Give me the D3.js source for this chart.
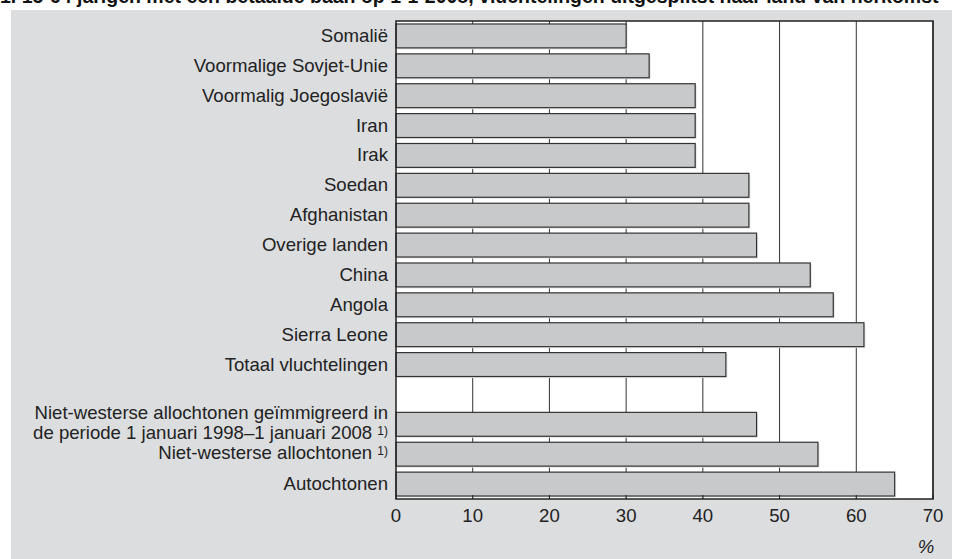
<!DOCTYPE html>
<html>
<head>
<meta charset="utf-8">
<script src="https://cdn.jsdelivr.net/npm/d3@7"></script>
<style>
  body { margin: 0; background: #fff; }
  svg { display: block; font-family: "Liberation Sans", Arial, sans-serif; }
</style>
</head>
<body>
<svg id="chart" width="955" height="559"></svg>
<script>
// data
let categories = ["Somalië", "Voormalige Sovjet-Unie", "Voormalig Joegoslavië", "Iran", "Irak",
    "Soedan", "Afghanistan", "Overige landen", "China", "Angola", "Sierra Leone",
    "Totaal vluchtelingen", "", "nw_immig", "nw", "Autochtonen"];
let values = [30, 33, 39, 39, 39, 46, 46, 47, 54, 57, 61, 43, null, 47, 55, 65];
let xTicks = [0, 10, 20, 30, 40, 50, 60, 70];

let svg = d3.select("#chart");
let plotL = 396, plotR = 933, plotT = 21, plotB = 499;
let fs = 18.6;

// gray panel
svg.append("rect")
    .attr("x", 11).attr("y", 10)
    .attr("width", 941).attr("height", 549)
    .attr("fill", "#dcdddf");

svg.append("text")
    .attr("x", 0).attr("y", 3)
    .attr("font-size", 19.5).attr("font-weight", "bold")
    .attr("fill", "#111")
    .text("1. 15-64 jarigen met een betaalde baan op 1-1-2008, vluchtelingen uitgesplitst naar land van herkomst");

let x = d3.scaleLinear().domain([0, 70]).range([plotL, plotR]);
let y = d3.scaleBand().domain(categories.map((d, i) => i))
    .range([plotT, plotB]).paddingInner(0.2).paddingOuter(0.1);

// plot area
svg.append("rect")
    .attr("x", plotL).attr("y", plotT)
    .attr("width", plotR - plotL).attr("height", plotB - plotT)
    .attr("fill", "white");

// gridlines
svg.selectAll(".grid")
    .data(xTicks.slice(1))
    .enter().append("line")
    .attr("x1", d => x(d)).attr("x2", d => x(d))
    .attr("y1", plotT).attr("y2", plotB)
    .attr("stroke", "#333").attr("stroke-width", 1);

let rows = values.map((v, i) => ({v: v, i: i})).filter(d => d.v !== null);

// bar shadow
svg.selectAll(".shadow")
    .data(rows)
    .enter().append("rect")
    .attr("x", x(0) + 1.5)
    .attr("y", d => y(d.i) + 1.5)
    .attr("width", d => x(d.v) - x(0))
    .attr("height", y.bandwidth())
    .attr("fill", "#e2e3e4");

svg.selectAll(".bar")
    .data(rows)
    .enter().append("rect")
    .attr("x", x(0))
    .attr("y", d => y(d.i))
    .attr("width", d => x(d.v) - x(0))
    .attr("height", y.bandwidth())
    .attr("fill", "#c8c9cb")
    .attr("stroke", "#333").attr("stroke-width", 1.2);

// frame
svg.append("rect")
    .attr("x", plotL).attr("y", plotT)
    .attr("width", plotR - plotL).attr("height", plotB - plotT)
    .attr("fill", "none")
    .attr("stroke", "#222").attr("stroke-width", 1.5);

// bottom ticks
svg.selectAll(".tick")
    .data(xTicks)
    .enter().append("line")
    .attr("x1", d => x(d)).attr("x2", d => x(d))
    .attr("y1", plotB).attr("y2", plotB - 4)
    .attr("stroke", "#222");

svg.selectAll(".xlab")
    .data(xTicks)
    .enter().append("text")
    .attr("x", d => x(d)).attr("y", 522)
    .attr("text-anchor", "middle")
    .attr("font-size", fs).attr("fill", "#222")
    .text(d => d);

svg.append("text")
    .attr("x", 926).attr("y", 553)
    .attr("text-anchor", "middle")
    .attr("font-size", fs).attr("font-style", "italic").attr("fill", "#222")
    .text("%");

// category labels
let labelX = 388;
let cy = i => y(i) + y.bandwidth() / 2;

categories.forEach((c, i) => {
    if (c === "" || c === "nw_immig" || c === "nw") return;
    svg.append("text")
        .attr("x", labelX).attr("y", cy(i) + 6)
        .attr("text-anchor", "end")
        .attr("font-size", fs).attr("fill", "#222")
        .text(c);
});

svg.append("text")
    .attr("x", labelX).attr("y", cy(13) - 5)
    .attr("text-anchor", "end")
    .attr("font-size", fs).attr("fill", "#222")
    .text("Niet-westerse allochtonen geïmmigreerd in");

let t2 = svg.append("text")
    .attr("x", labelX).attr("y", cy(13) + 15)
    .attr("text-anchor", "end")
    .attr("font-size", fs).attr("fill", "#222");
t2.append("tspan").text("de periode 1 januari 1998–1 januari 2008 ");
t2.append("tspan").attr("font-size", 12).attr("dy", -4).text("1)");

let t3 = svg.append("text")
    .attr("x", labelX).attr("y", cy(14) + 5)
    .attr("text-anchor", "end")
    .attr("font-size", fs).attr("fill", "#222");
t3.append("tspan").text("Niet-westerse allochtonen ");
t3.append("tspan").attr("font-size", 12).attr("dy", -4).text("1)");
</script>
</body>
</html>
